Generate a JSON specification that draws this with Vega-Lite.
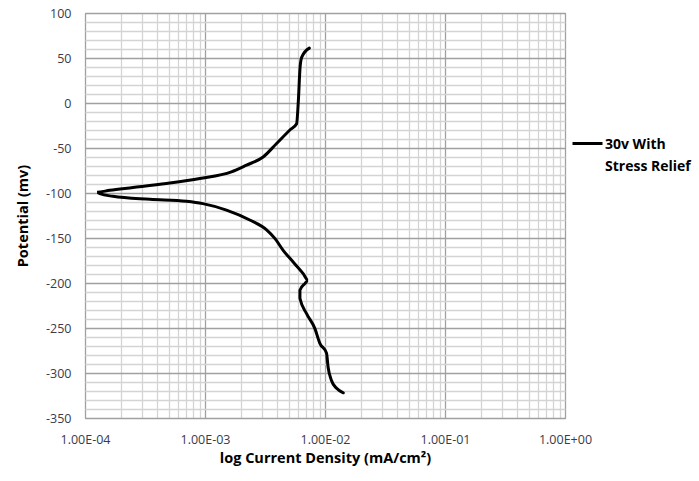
{
  "$schema": "https://vega.github.io/schema/vega-lite/v6.json",
  "width": 480,
  "height": 405,
  "autosize": {"type": "none"},
  "padding": {"left": 85, "top": 13, "right": 134, "bottom": 63},
  "background": "white",
  "config": {
    "view": {"stroke": "#8c8c8c", "strokeWidth": 1},
    "font": "Open Sans"
  },
  "data": {
    "values": [
      {"i": 1, "x": 0.0074, "y": 61, "s": "30v With Stress Relief"},
      {"i": 2, "x": 0.0064, "y": 51, "s": "30v With Stress Relief"},
      {"i": 3, "x": 0.0062, "y": 40, "s": "30v With Stress Relief"},
      {"i": 4, "x": 0.0060, "y": 3, "s": "30v With Stress Relief"},
      {"i": 5, "x": 0.0058, "y": -23, "s": "30v With Stress Relief"},
      {"i": 6, "x": 0.0051, "y": -30, "s": "30v With Stress Relief"},
      {"i": 7, "x": 0.00395, "y": -45, "s": "30v With Stress Relief"},
      {"i": 8, "x": 0.00305, "y": -60, "s": "30v With Stress Relief"},
      {"i": 9, "x": 0.00222, "y": -69, "s": "30v With Stress Relief"},
      {"i": 10, "x": 0.00166, "y": -76.5, "s": "30v With Stress Relief"},
      {"i": 11, "x": 0.000906, "y": -84, "s": "30v With Stress Relief"},
      {"i": 12, "x": 0.000478, "y": -89.5, "s": "30v With Stress Relief"},
      {"i": 13, "x": 0.000251, "y": -94, "s": "30v With Stress Relief"},
      {"i": 14, "x": 0.000161, "y": -97, "s": "30v With Stress Relief"},
      {"i": 15, "x": 0.000126, "y": -99.2, "s": "30v With Stress Relief"},
      {"i": 16, "x": 0.000133, "y": -100.7, "s": "30v With Stress Relief"},
      {"i": 17, "x": 0.000171, "y": -103.7, "s": "30v With Stress Relief"},
      {"i": 18, "x": 0.000347, "y": -107, "s": "30v With Stress Relief"},
      {"i": 19, "x": 0.00070, "y": -109.2, "s": "30v With Stress Relief"},
      {"i": 20, "x": 0.00096, "y": -111.8, "s": "30v With Stress Relief"},
      {"i": 21, "x": 0.00151, "y": -119, "s": "30v With Stress Relief"},
      {"i": 22, "x": 0.00236, "y": -130, "s": "30v With Stress Relief"},
      {"i": 23, "x": 0.00326, "y": -141, "s": "30v With Stress Relief"},
      {"i": 24, "x": 0.00385, "y": -151, "s": "30v With Stress Relief"},
      {"i": 25, "x": 0.00448, "y": -163.7, "s": "30v With Stress Relief"},
      {"i": 26, "x": 0.00543, "y": -176.7, "s": "30v With Stress Relief"},
      {"i": 27, "x": 0.00658, "y": -189.6, "s": "30v With Stress Relief"},
      {"i": 28, "x": 0.00724, "y": -197, "s": "30v With Stress Relief"},
      {"i": 29, "x": 0.0068, "y": -200.7, "s": "30v With Stress Relief"},
      {"i": 30, "x": 0.00618, "y": -208, "s": "30v With Stress Relief"},
      {"i": 31, "x": 0.00618, "y": -217, "s": "30v With Stress Relief"},
      {"i": 32, "x": 0.00702, "y": -234, "s": "30v With Stress Relief"},
      {"i": 33, "x": 0.00824, "y": -250.7, "s": "30v With Stress Relief"},
      {"i": 34, "x": 0.00906, "y": -267, "s": "30v With Stress Relief"},
      {"i": 35, "x": 0.0103, "y": -278, "s": "30v With Stress Relief"},
      {"i": 36, "x": 0.0106, "y": -293, "s": "30v With Stress Relief"},
      {"i": 37, "x": 0.0113, "y": -308, "s": "30v With Stress Relief"},
      {"i": 38, "x": 0.0125, "y": -317, "s": "30v With Stress Relief"},
      {"i": 39, "x": 0.0142, "y": -322, "s": "30v With Stress Relief"}
    ]
  },
  "mark": {"type": "line", "strokeWidth": 3, "interpolate": "monotone", "strokeCap": "round"},
  "encoding": {
    "x": {
      "field": "x",
      "type": "quantitative",
      "scale": {"type": "log", "domain": [0.0001, 1], "nice": false},
      "axis": {
        "values": [0.0001, 0.0002, 0.0003, 0.0004, 0.0005, 0.0006, 0.0007, 0.0008, 0.0009, 0.001, 0.002, 0.003, 0.004, 0.005, 0.006, 0.007, 0.008, 0.009, 0.01, 0.02, 0.03, 0.04, 0.05, 0.06, 0.07, 0.08, 0.09, 0.1, 0.2, 0.3, 0.4, 0.5, 0.6, 0.7, 0.8, 0.9, 1],
        "labelExpr": "abs(log(datum.value)/LN10 - round(log(datum.value)/LN10)) < 0.001 ? '1.00E' + (round(log(datum.value)/LN10) < 0 ? '-' : '+') + '0' + abs(round(log(datum.value)/LN10)) : ''",
        "grid": true,
        "gridColor": {"condition": {"test": "abs(log(datum.value)/LN10 - round(log(datum.value)/LN10)) < 0.001", "value": "#a0a0a0"}, "value": "#d4d4d4"},
        "gridWidth": 1.3,
        "ticks": false,
        "domain": false,
        "labelFontSize": 12.5,
        "labelColor": "#3a3a4a",
        "labelPadding": 15,
        "labelFlush": false,
        "labelOverlap": false,
        "title": "log Current Density (mA/cm²)",
        "titleFontSize": 14.5,
        "titleFontWeight": "bold",
        "titleColor": "#000000",
        "titlePadding": 6
      }
    },
    "y": {
      "field": "y",
      "type": "quantitative",
      "scale": {"domain": [-350, 100], "nice": false},
      "axis": {
        "values": [-350, -340, -330, -320, -310, -300, -290, -280, -270, -260, -250, -240, -230, -220, -210, -200, -190, -180, -170, -160, -150, -140, -130, -120, -110, -100, -90, -80, -70, -60, -50, -40, -30, -20, -10, 0, 10, 20, 30, 40, 50, 60, 70, 80, 90, 100],
        "labelExpr": "datum.value % 50 == 0 ? datum.value : ''",
        "grid": true,
        "gridColor": {"condition": {"test": "datum.value % 50 == 0", "value": "#a0a0a0"}, "value": "#d4d4d4"},
        "gridWidth": 1.3,
        "ticks": false,
        "domain": false,
        "labelFontSize": 12.5,
        "labelColor": "#3a3a4a",
        "labelPadding": 14,
        "labelOverlap": false,
        "title": "Potential (mv)",
        "titleFontSize": 14.5,
        "titleFontWeight": "bold",
        "titleColor": "#000000",
        "titlePadding": 15
      }
    },
    "order": {"field": "i", "type": "quantitative"},
    "color": {
      "field": "s",
      "type": "nominal",
      "scale": {"range": ["#000000"]},
      "legend": {
        "title": null,
        "orient": "none",
        "legendX": 486,
        "legendY": 114,
        "symbolType": "stroke",
        "symbolSize": 900,
        "symbolStrokeWidth": 3,
        "labelExpr": "['30v With', 'Stress Relief']",
        "labelFontSize": 14,
        "labelFontWeight": "bold",
        "labelColor": "#000000",
        "labelOffset": 1,
        "labelBaseline": "middle",
        "labelLimit": 200,
        "encode": {
          "labels": {"update": {"lineHeight": {"value": 22}, "dy": {"value": 1}}}
        }
      }
    }
  }
}
